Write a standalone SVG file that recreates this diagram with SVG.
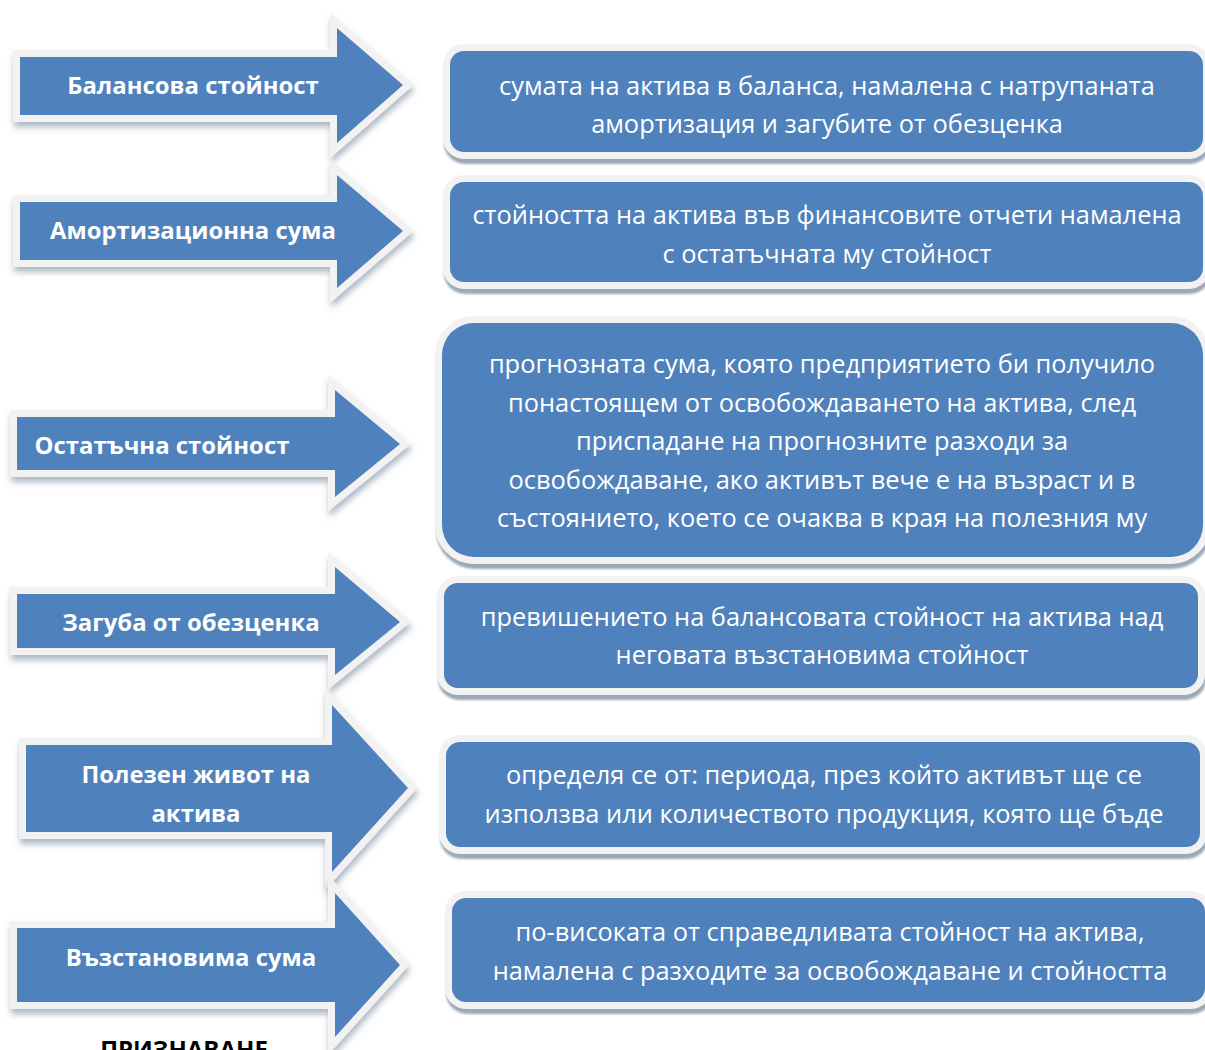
<svg xmlns="http://www.w3.org/2000/svg" width="1205" height="1050" viewBox="0 0 1205 1050">
<style>
.arrow{fill:#4f81bd;stroke:#f2f2f2;stroke-width:14;stroke-linejoin:miter;paint-order:stroke;filter:url(#sh)}
.box{fill:#4f81bd;stroke:#f2f2f2;stroke-width:14;paint-order:stroke;filter:url(#sh2)}
.lbl{font-family:"Open Sans","Noto Sans",sans-serif;font-weight:bold;font-size:23.9px;fill:#ffffff;text-anchor:middle}
.txt{font-family:"Open Sans","Noto Sans",sans-serif;font-size:25.4px;fill:#ffffff;text-anchor:middle}
.foot{font-family:"Open Sans","Noto Sans",sans-serif;font-weight:bold;font-size:24px;fill:#000000;text-anchor:middle}
</style>
<defs>
<filter id="sh" x="-10%" y="-20%" width="130%" height="150%">
<feDropShadow dx="1" dy="5" stdDeviation="3" flood-color="#6b7d93" flood-opacity="0.55"/>
</filter>
<filter id="sh2" x="-5%" y="-10%" width="110%" height="130%">
<feDropShadow dx="1" dy="5" stdDeviation="1" flood-color="#8a99ab" flood-opacity="0.85"/>
</filter>
</defs>
<rect width="1205" height="1050" fill="#ffffff"/>

<g id="arrow1">
<polygon class="arrow" points="20,57 337,57 337,28 403,85 337,143 337,115 20,115"/>
<text class="lbl" x="193" y="94">Балансова стойност</text>
</g>
<g id="arrow2">
<polygon class="arrow" points="20,202 337,202 337,175 403,231 337,288 337,260 20,260"/>
<text class="lbl" x="193" y="239">Амортизационна сума</text>
</g>
<g id="arrow3">
<polygon class="arrow" points="17,417 335,417 335,390 400,444 335,497 335,470 17,470"/>
<text class="lbl" x="162" y="454">Остатъчна стойност</text>
</g>
<g id="arrow4">
<polygon class="arrow" points="17,594 335,594 335,567 400,622 335,675 335,648 17,648"/>
<text class="lbl" x="191" y="631">Загуба от обезценка</text>
</g>
<g id="arrow5">
<polygon class="arrow" points="26,745 332,745 332,705 408,788 332,872 332,832 26,832"/>
<text class="lbl" x="196" y="783">Полезен живот на</text>
<text class="lbl" x="196" y="822">актива</text>
</g>
<g id="arrow6">
<polygon class="arrow" points="17,928 335,928 335,893 400,965 335,1037 335,1002 17,1002"/>
<text class="lbl" x="191" y="966">Възстановима сума</text>
</g>

<g id="box1">
<rect class="box" x="450" y="51" width="753" height="101" rx="14"/>
<text class="txt" x="827" y="95">сумата на актива в баланса, намалена с натрупаната</text>
<text class="txt" x="827" y="133">амортизация и загубите от обезценка</text>
</g>
<g id="box2">
<rect class="box" x="450" y="182" width="753" height="100" rx="14"/>
<text class="txt" x="827" y="224">стойността на актива във финансовите отчети намалена</text>
<text class="txt" x="827" y="263">с остатъчната му стойност</text>
</g>
<g id="box3">
<rect class="box" x="442" y="323" width="761" height="234" rx="32"/>
<text class="txt" x="822" y="373">прогнозната сума, която предприятието би получило</text>
<text class="txt" x="822" y="412">понастоящем от освобождаването на актива, след</text>
<text class="txt" x="822" y="450">приспадане на прогнозните разходи за</text>
<text class="txt" x="822" y="489">освобождаване, ако активът вече е на възраст и в</text>
<text class="txt" x="822" y="527">състоянието, което се очаква в края на полезния му</text>
</g>
<g id="box4">
<rect class="box" x="444" y="583" width="754" height="105" rx="14"/>
<text class="txt" x="822" y="626">превишението на балансовата стойност на актива над</text>
<text class="txt" x="822" y="664">неговата възстановима стойност</text>
</g>
<g id="box5">
<rect class="box" x="446" y="742" width="754" height="105" rx="14"/>
<text class="txt" x="824" y="784">определя се от: периода, през който активът ще се</text>
<text class="txt" x="824" y="823">използва или количеството продукция, която ще бъде</text>
</g>
<g id="box6">
<rect class="box" x="452" y="898" width="753" height="104" rx="14"/>
<text class="txt" x="830" y="941">по-високата от справедливата стойност на актива,</text>
<text class="txt" x="830" y="980">намалена с разходите за освобождаване и стойността</text>
</g>
<g id="connectors"></g>
<text class="foot" x="184" y="1058">ПРИЗНАВАНЕ</text>
</svg>
